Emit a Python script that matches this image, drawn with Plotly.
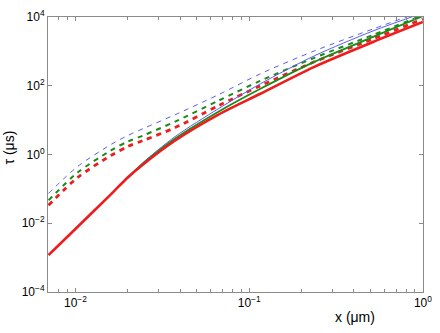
import plotly.graph_objects as go

# x positions (µm)
x_full = [0.007, 0.0103, 0.016, 0.020, 0.0245, 0.0375, 0.0665, 0.116, 0.237, 0.516, 1.0]
x_branch = [0.020, 0.0245, 0.0375, 0.0665, 0.116, 0.237, 0.516, 1.0]

# dashed curves tau (µs)
blue_dashed = [0.0741, 0.449, 1.95, 3.56, 5.67, 14.4, 54.8, 223, 1030, 4490, 14900]
green_dashed = [0.0464, 0.301, 1.31, 2.38, 3.56, 9.06, 36.7, 140, 649, 3010, 11400]
red_dashed = [0.0333, 0.215, 0.935, 1.71, 2.55, 6.07, 26.3, 100, 497, 2300, 8750]

# solid curves
red_solid = [0.00118, 0.00792, 0.0693, 0.215, 0.513, 2.55, 14.4, 58.6, 356, 1880, 7160]
green_solid = [0.215, 0.548, 2.91, 17.6, 81.8, 497, 2630, 10700]
blue_solid = [0.215, 0.586, 3.33, 21.5, 114, 741, 3930, 13100]

BLUE = "#5b5bf0"
GREEN = "#1a8a1a"
RED = "#ee1c1c"

fig = go.Figure()
def add(x, y, color, width, dash=None):
    fig.add_trace(go.Scatter(x=x, y=y, mode="lines",
                             line=dict(color=color, width=width, dash=dash,
                                       shape="spline", smoothing=0.8)))

add(x_full, blue_dashed, BLUE, 1, "5px,5px")
add(x_full, green_dashed, GREEN, 2, "5px,5px")
add(x_full, red_dashed, RED, 2.8, "5px,5px")
add(x_branch, blue_solid, BLUE, 1)
add(x_branch, green_solid, GREEN, 1.8)
add(x_full, red_solid, RED, 2.6)

x_tickvals = [0.01, 0.1, 1.0]
x_ticktext = ["10<sup>−2</sup>", "10<sup>−1</sup>", "10<sup>0</sup>"]
y_tickvals = [1e-4, 1e-2, 1, 1e2, 1e4]
y_ticktext = ["10<sup>−4</sup>", "10<sup>−2</sup>", "10<sup>0</sup>", "10<sup>2</sup>", "10<sup>4</sup>"]

AX = "#8a8a8a"
fig.update_xaxes(type="log", range=[-2.158, 0.0005], tickvals=x_tickvals, ticktext=x_ticktext,
                 ticks="inside", ticklen=4, tickcolor=AX, showline=True, linecolor=AX,
                 linewidth=1, mirror="ticks", showgrid=False, zeroline=False,
                 ticklabeloverflow="allow",
                 minor=dict(ticks="inside", ticklen=3, tickcolor=AX, dtick="D1", showgrid=False),
                 tickfont=dict(size=12, color="black"))
fig.update_yaxes(type="log", range=[-4, 4.0005], tickvals=y_tickvals, ticktext=y_ticktext,
                 ticks="inside", ticklen=4, tickcolor=AX, showline=True, linecolor=AX,
                 linewidth=1, mirror="ticks", showgrid=False, zeroline=False,
                 tickfont=dict(size=12, color="black"))

fig.add_annotation(text="x (μm)", xref="paper", yref="paper",
                   x=(362 - 48) / 384, y=(292 - 317) / 276, showarrow=False,
                   font=dict(size=14, color="black"), xanchor="center", yanchor="middle")
fig.add_annotation(text="τ (μs)", xref="paper", yref="paper",
                   x=(8 - 48) / 384, y=(292 - 147) / 276, showarrow=False, textangle=-90,
                   font=dict(size=14, color="black"), xanchor="center", yanchor="middle")

fig.update_layout(width=440, height=333, margin=dict(l=48, r=8, t=16, b=41),
                  paper_bgcolor="white", plot_bgcolor="white", showlegend=False,
                  font=dict(family="Liberation Sans, Arial, sans-serif"))

fig.write_html("out.html")
